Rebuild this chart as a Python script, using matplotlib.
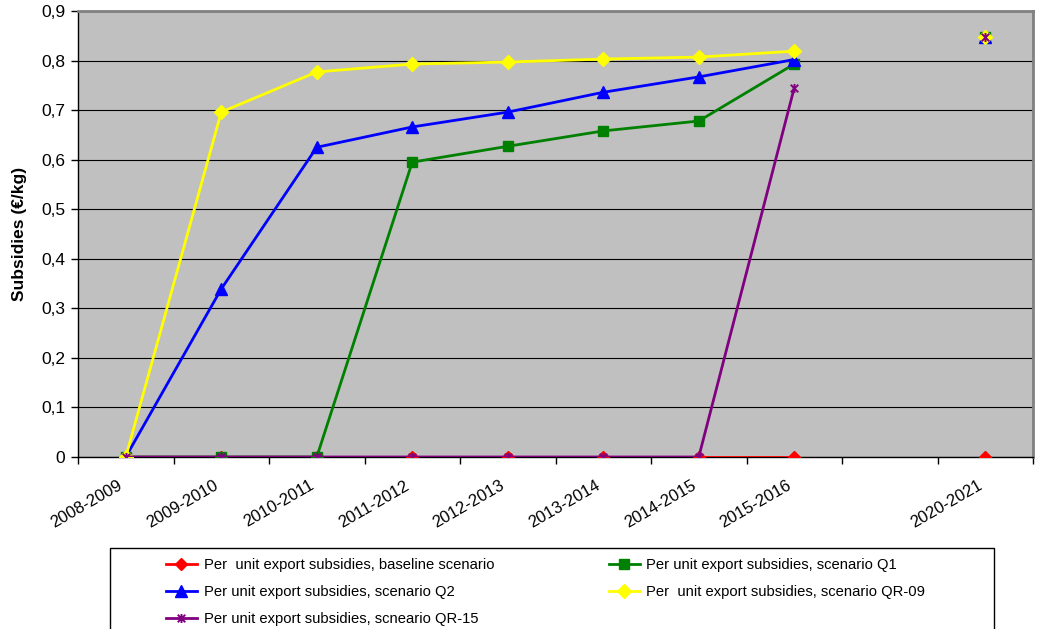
import matplotlib.pyplot as plt
from matplotlib.path import Path
from matplotlib.patches import Rectangle
from matplotlib.ticker import FuncFormatter, FixedLocator
from matplotlib.transforms import ScaledTranslation
import numpy as np

plt.rcParams['font.family'] = ['Liberation Sans', 'DejaVu Sans']

# categories (index 8 is an empty slot in the original chart)
seasons = ['2008-2009', '2009-2010', '2010-2011', '2011-2012', '2012-2013',
           '2013-2014', '2014-2015', '2015-2016', '', '2020-2021']
nan = np.nan
baseline = [0, 0, 0, 0, 0, 0, 0, 0, nan, 0]
q1 = [0, 0, 0, 0.595, 0.627, 0.658, 0.678, 0.793, nan, 0.847]
q2 = [0, 0.339, 0.625, 0.666, 0.696, 0.736, 0.767, 0.802, nan, 0.847]
qr09 = [0, 0.696, 0.777, 0.793, 0.797, 0.803, 0.807, 0.819, nan, 0.847]
qr15 = [0, 0, 0, 0, 0, 0, 0, 0.745, nan, 0.847]

labels = ['Per  unit export subsidies, baseline scenario',
          'Per unit export subsidies, scenario Q1',
          'Per unit export subsidies, scenario Q2',
          'Per  unit export subsidies, scenario QR-09',
          'Per unit export subsidies, scneario QR-15']

# excel style star marker: an x with a vertical bar
star = Path([(-1, -1), (1, 1), (-1, 1), (1, -1), (0, -1.2), (0, 1.2)],
            [Path.MOVETO, Path.LINETO, Path.MOVETO, Path.LINETO, Path.MOVETO, Path.LINETO])

W, H = 1037, 629
fig = plt.figure(figsize=(W/100, H/100), dpi=100)
ax = fig.add_axes([78/W, 1-457/H, (1033-78)/W, (457-11)/H])
ax.set_facecolor('#C0C0C0')

x = np.arange(len(seasons))
lw = 2
h_base, = ax.plot(x, baseline, color='#FF0000', lw=lw, marker='D', ms=6.5, label=labels[0], zorder=3)
h_q1, = ax.plot(x, q1, color='#008000', lw=lw, marker='s', ms=6.5, label=labels[1], zorder=4)
h_q2, = ax.plot(x, q2, color='#0000FF', lw=lw, marker='^', ms=8, label=labels[2], zorder=5)
h_qr09, = ax.plot(x, qr09, color='#FFFF00', lw=lw, marker='D', ms=7, label=labels[3], zorder=6)
h_qr15, = ax.plot(x, qr15, color='#800080', lw=lw, marker=star, ms=6.5, mew=1.4, label=labels[4], zorder=7)

ax.set_xlim(-0.5, len(seasons) - 0.5)
ax.set_ylim(0, 0.9)
ax.set_yticks(np.arange(0, 0.91, 0.1))
ax.yaxis.set_major_formatter(FuncFormatter(lambda v, p: '0' if abs(v) < 1e-9 else f'{v:.1f}'.replace('.', ',')))
ax.grid(axis='y', color='black', lw=0.8)
ax.set_axisbelow(True)

ax.set_xticks(x)
ax.set_xticklabels(seasons, rotation=30, ha='right', va='top', rotation_mode='anchor', fontsize=12)
ax.tick_params(axis='x', which='major', length=0, pad=15)
ax.xaxis.set_minor_locator(FixedLocator(np.arange(-0.5, len(seasons), 1)))
ax.tick_params(axis='x', which='minor', length=5, width=1, color='black')
ax.tick_params(axis='y', length=5, width=1, labelsize=12.5, pad=4)
# nudge labels a bit left of the category centre, as excel does
shift = ScaledTranslation(-8/100, 0, fig.dpi_scale_trans)
for lab in ax.get_xticklabels():
    lab.set_transform(lab.get_transform() + shift)

ax.set_ylabel('Subsidies (€/kg)', fontsize=12.5, fontweight='bold', labelpad=10)

for s in ['top', 'right']:
    ax.spines[s].set_color('#808080')
    ax.spines[s].set_linewidth(2)
for s in ['left', 'bottom']:
    ax.spines[s].set_color('black')
    ax.spines[s].set_linewidth(1)

# legend frame runs past the bottom edge of the picture
fig.patches.append(Rectangle((110/W, -0.05), (994-110)/W, 0.05 + 1-548/H,
                             transform=fig.transFigure, fill=False, edgecolor='black', lw=1))

# legend laid out row by row as in the original
handles = [h_base, h_q2, h_qr15, h_q1, h_qr09]
leg = fig.legend(handles, [h.get_label() for h in handles], loc='upper left',
                 bbox_to_anchor=(166/W, 1-558/H), ncol=2, fontsize=10.6, frameon=False,
                 handlelength=2.1, handletextpad=0.45, labelspacing=0.9, columnspacing=7.8,
                 borderaxespad=0, borderpad=0)

fig.savefig('out.png', dpi=100)
